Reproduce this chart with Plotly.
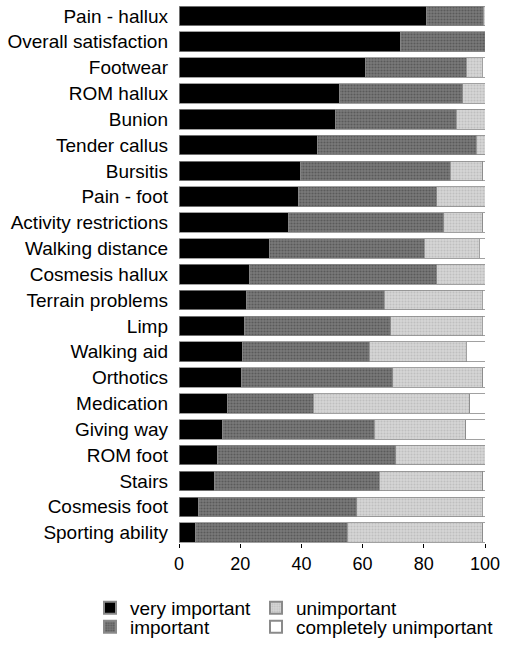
import plotly.graph_objects as go

categories = ["Pain - hallux", "Overall satisfaction", "Footwear", "ROM hallux", "Bunion",
              "Tender callus", "Bursitis", "Pain - foot", "Activity restrictions",
              "Walking distance", "Cosmesis hallux", "Terrain problems", "Limp",
              "Walking aid", "Orthotics", "Medication", "Giving way", "ROM foot",
              "Stairs", "Cosmesis foot", "Sporting ability"]

very_important = [81.0, 72.3, 60.8, 52.6, 51.0, 45.2, 39.8, 39.0, 35.7, 29.5, 23.1,
                  22.1, 21.4, 20.7, 20.4, 16.0, 14.3, 12.6, 11.5, 6.5, 5.4]
important = [18.5, 27.7, 33.1, 40.2, 39.6, 52.0, 48.9, 45.3, 50.8, 50.7, 61.2,
             44.9, 47.8, 41.4, 49.5, 27.8, 49.5, 58.2, 53.9, 51.6, 49.6]
unimportant = [0.5, 0.0, 5.2, 7.2, 9.4, 2.8, 10.6, 15.7, 12.8, 17.9, 15.7,
               32.1, 29.9, 31.7, 29.4, 51.2, 29.9, 29.2, 33.9, 41.0, 44.3]
completely_unimportant = [0.0, 0.0, 0.9, 0.0, 0.0, 0.0, 0.7, 0.0, 0.7, 1.9, 0.0,
                          0.9, 0.9, 6.2, 0.7, 5.0, 6.3, 0.0, 0.7, 0.9, 0.7]

x_ticks = [0, 20, 40, 60, 80, 100]

series = [
    ("very important", very_important,
     dict(color="#000000"), "legend"),
    ("important", important,
     dict(color="#6a6a6a", pattern=dict(shape=".", fgcolor="#3a3a3a", bgcolor="#7a7a7a",
                                        size=3, solidity=0.4)), "legend2"),
    ("unimportant", unimportant,
     dict(color="#cacaca", pattern=dict(shape=".", fgcolor="#a8a8a8", bgcolor="#d6d6d6",
                                        size=3, solidity=0.4)), "legend3"),
    ("completely unimportant", completely_unimportant,
     dict(color="#ffffff"), "legend4"),
]

fig = go.Figure()
for name, vals, mk, lg in series:
    mk = dict(mk)
    mk["line"] = dict(color="#8a8a8a", width=0.8)
    fig.add_trace(go.Bar(
        y=categories, x=vals, name=name, orientation="h",
        marker=mk, legend=lg,
    ))

FONT = "Liberation Sans, Arial, sans-serif"
W, H = 507, 646

def leg(x, y):
    return dict(x=x / W, y=1 - y / H, xref="container", yref="container",
                xanchor="left", yanchor="middle", bgcolor="rgba(0,0,0,0)",
                font=dict(family=FONT, size=19, color="#000"),
                itemsizing="constant")

fig.update_layout(
    width=W, height=H,
    barmode="stack", bargap=0.24,
    plot_bgcolor="white", paper_bgcolor="white",
    margin=dict(l=179.3, r=22, t=3, b=102.7, autoexpand=False),
    font=dict(family=FONT, size=19, color="#000"),
    showlegend=True,
    legend=leg(90, 608),
    legend2=leg(90, 627),
    legend3=leg(256, 608),
    legend4=leg(256, 627),
    xaxis=dict(range=[0, 100], tickvals=x_ticks, ticks="outside", ticklen=4,
               tickcolor="#000", showline=False, showgrid=False, zeroline=False,
               tickfont=dict(size=18, family=FONT, color="#000"), fixedrange=True),
    yaxis=dict(categoryorder="array", categoryarray=categories,
               range=[20.4, -0.5], showline=False, showgrid=False, ticks="",
               ticklabelstandoff=10, fixedrange=True,
               tickfont=dict(size=19, family=FONT, color="#000")),
)

fig.write_html("out.html", config={"displayModeBar": False},
               post_script="document.body.style.margin='0';")
